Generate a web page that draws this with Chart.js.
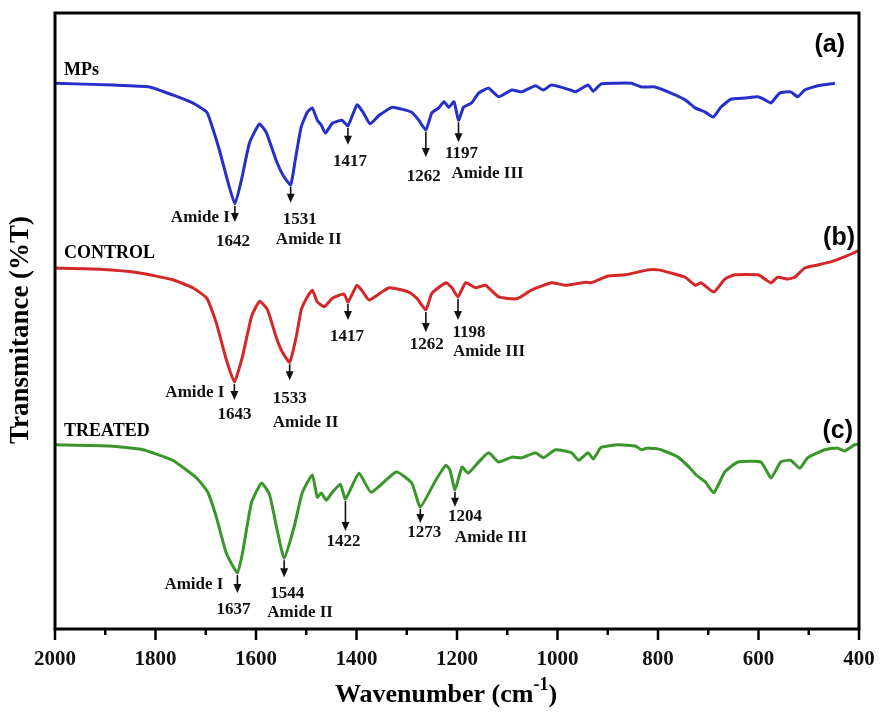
<!DOCTYPE html>
<html lang="en">
  <head>
    <meta charset="UTF-8" />
    <meta name="viewport" content="width=device-width, initial-scale=1.0" />
    <title>FTIR spectra</title>
    <style>
      html, body {
        margin: 0;
        padding: 0;
        background: #fff;
        overflow: hidden;
      }
      canvas {
        display: block;
      }
    </style>
  </head>
  <body>
    <canvas id="ftir" width="885" height="715"></canvas>
  </body>
  <script src="https://cdn.jsdelivr.net/npm/chart.js"></script>
  <script>
    // wavenumbers (cm-1) and offset transmittance for each sample
    const mpsWn = [2000,1885,1812,1766,1726,1698,1687,1673,1657,1642,1629,1613,1593,1579,1560,1545,1531,1522,1510,1498,1488,1478,1470,1462,1448,1429,1417,1399,1387,1373,1355,1329,1310,1290,1276,1262,1250,1236,1226,1216,1206,1197,1187,1171,1157,1137,1117,1091,1071,1044,1028,1012,974,964,939,929,913,885,853,833,806,774,746,726,706,690,675,655,627,601,587,575,558,536,522,508,482,448];
    const mpsT = [88.6,88.3,88.0,86.7,85.4,83.9,81.5,77.8,72.9,69.0,72.9,78.9,82.0,80.5,76.1,73.5,72.1,76.1,81.5,83.9,84.6,82.6,81.8,80.5,82.1,82.6,81.7,85.1,83.9,82.0,83.4,84.7,84.4,83.9,82.6,81.0,83.8,84.6,85.6,84.7,85.6,82.6,84.7,85.4,87.0,87.8,86.4,87.5,87.2,88.2,87.5,88.3,87.5,87.2,88.3,87.3,88.5,88.6,88.6,88.0,88.0,87.0,85.9,84.6,83.9,83.1,84.7,86.0,86.2,86.4,85.9,85.4,87.0,87.2,86.4,87.5,88.2,88.6];

    const controlWn = [2000,1911,1831,1766,1726,1698,1679,1659,1643,1627,1609,1593,1577,1560,1548,1533,1520,1510,1498,1488,1478,1464,1448,1425,1417,1399,1387,1375,1335,1296,1280,1262,1250,1222,1210,1198,1183,1163,1143,1117,1081,1052,1012,984,944,933,899,865,820,800,774,746,726,714,689,667,647,601,587,575,562,542,528,508,482,456,429,407,400];
    const controlT = [58.6,58.4,57.8,56.7,55.4,53.7,49.7,43.7,40.1,44.2,50.7,53.2,51.8,47.4,45.0,43.3,47.4,51.8,53.9,55.0,53.1,52.3,53.7,54.4,53.1,55.8,54.7,53.4,55.4,54.7,53.7,51.8,54.5,56.2,55.4,53.9,56.2,55.4,55.8,53.9,53.6,55.0,56.2,55.8,56.3,56.2,57.3,57.5,58.3,58.3,57.8,57.1,55.8,56.2,54.7,56.8,57.5,57.5,56.8,56.2,57.1,56.8,57.1,58.6,59.1,59.6,60.4,61.2,61.5];

    const treatedWn = [2000,1891,1825,1766,1718,1696,1679,1659,1637,1627,1609,1589,1573,1558,1544,1524,1508,1488,1478,1470,1460,1448,1432,1422,1395,1371,1321,1290,1273,1242,1222,1214,1204,1190,1178,1157,1137,1117,1091,1071,1044,1028,1004,972,958,939,929,913,879,845,833,820,794,760,736,724,706,689,667,641,595,575,556,536,518,502,468,443,429,409,400];
    const treatedT = [29.9,29.7,29.1,27.4,24.5,22.2,18.2,12.3,9.1,12.3,20.5,23.7,21.8,16.1,11.5,16.6,22.1,25.0,21.4,22.1,20.9,22.2,23.5,21.1,25.3,22.2,25.5,23.7,19.8,24.2,26.6,25.8,22.6,26.3,25.3,27.1,28.6,27.1,27.9,27.8,28.6,27.8,29.1,28.6,27.4,28.6,27.6,29.5,29.9,29.7,29.1,29.4,29.1,27.9,26.1,25.0,23.9,22.1,25.5,27.1,27.1,24.5,27.1,27.4,26.1,27.8,29.1,29.4,28.9,29.9,30.0];

    // assigned bands
    const mpsPeaks = [1642, 1531, 1417, 1262, 1197];
    const controlPeaks = [1643, 1533, 1417, 1262, 1198];
    const treatedPeaks = [1637, 1544, 1422, 1273, 1204];
    const peakNames = ['Amide I', 'Amide II', '', '', 'Amide III'];

    const sampleNames = ['MPs', 'CONTROL', 'TREATED'];
    const panelTags = ['(a)', '(b)', '(c)'];
    const xTicks = [2000, 1800, 1600, 1400, 1200, 1000, 800, 600, 400];

    const toPoints = (wn, t) => wn.map((x, i) => ({ x: x, y: t[i] }));

    // arrow length, number offset and name offset for each band (px)
    const markStyle = [
      [
        { len: 16, num: [-2, 38], name: [-5, 14, 'right'] },
        { len: 16, num: [9, 35], name: [18, 55, 'center'] },
        { len: 17, num: [2, 36] },
        { len: 25, num: [-2, 47] },
        { len: 20, num: [3, 33], name: [29, 53, 'center'] },
      ],
      [
        { len: 16, num: [0, 33], name: [-10, 11, 'right'] },
        { len: 16, num: [0, 36], name: [16, 60, 'center'] },
        { len: 16, num: [-1, 35] },
        { len: 20, num: [1, 35] },
        { len: 21, num: [11, 36], name: [31, 55, 'center'] },
      ],
      [
        { len: 18, num: [-4, 37], name: [-14, 12, 'right'] },
        { len: 17, num: [3, 35], name: [16, 54, 'center'] },
        { len: 30, num: [-2, 43] },
        { len: 14, num: [4, 26] },
        { len: 15, num: [10, 27], name: [36, 48, 'center'] },
      ],
    ];

    const series = [
      { wn: mpsWn, t: mpsT, peaks: mpsPeaks, color: 'rgb(38, 48, 200)' },
      { wn: controlWn, t: controlT, peaks: controlPeaks, color: 'rgb(212, 40, 40)' },
      { wn: treatedWn, t: treatedT, peaks: treatedPeaks, color: 'rgb(58, 150, 42)' },
    ];

    const serif = '"Liberation Serif", "Times New Roman", serif';

    const drawArrow = (ctx, x, y0, y1) => {
      ctx.beginPath();
      ctx.moveTo(x, y0);
      ctx.lineTo(x, y1 - 6);
      ctx.lineWidth = 1.6;
      ctx.strokeStyle = '#111';
      ctx.stroke();
      ctx.beginPath();
      ctx.moveTo(x - 4, y1 - 9);
      ctx.lineTo(x + 4, y1 - 9);
      ctx.lineTo(x, y1);
      ctx.closePath();
      ctx.fillStyle = '#111';
      ctx.fill();
    };

    const decor = {
      id: 'decor',
      afterDraw(chart) {
        const { ctx, chartArea: a, scales } = chart;
        const xs = scales.x;
        const ys = scales.y;
        ctx.save();

        // frame
        ctx.strokeStyle = '#000';
        ctx.lineWidth = 3;
        ctx.strokeRect(a.left, a.top, a.right - a.left, a.bottom - a.top);

        // major and minor ticks under the frame
        ctx.lineWidth = 2.5;
        for (let v = 2000; v >= 400; v -= 100) {
          const x = xs.getPixelForValue(v);
          ctx.beginPath();
          ctx.moveTo(x, a.bottom);
          ctx.lineTo(x, a.bottom + (v % 200 === 0 ? 11 : 6));
          ctx.stroke();
        }

        // band arrows and labels
        series.forEach((s, si) => {
          s.peaks.forEach((p, pi) => {
            const st = markStyle[si][pi];
            const idx = s.wn.indexOf(p);
            const x = xs.getPixelForValue(p);
            const y = ys.getPixelForValue(s.t[idx]);
            drawArrow(ctx, x, y + 2, y + 2 + st.len);
            ctx.fillStyle = '#111';
            ctx.font = 'bold 17px ' + serif;
            ctx.textBaseline = 'middle';
            ctx.textAlign = 'center';
            ctx.fillText(String(p), x + st.num[0], y + st.num[1]);
            if (st.name) {
              ctx.textAlign = st.name[2];
              ctx.fillText(peakNames[pi], x + st.name[0], y + st.name[1]);
            }
          });
        });

        // sample names and panel tags
        const nameY = [70, 253, 431];
        const tagY = [45, 238, 431];
        const tagRight = [14, 4, 6];
        ctx.fillStyle = '#000';
        ctx.textBaseline = 'middle';
        sampleNames.forEach((n, i) => {
          ctx.font = 'bold 18px ' + serif;
          ctx.textAlign = 'left';
          ctx.fillText(n, a.left + 9, nameY[i]);
          ctx.font = 'bold 25px "Liberation Sans", Arial, sans-serif';
          ctx.textAlign = 'right';
          ctx.fillText(panelTags[i], a.right - tagRight[i], tagY[i]);
        });

        // axis titles
        ctx.font = 'bold 27px ' + serif;
        ctx.textAlign = 'center';
        ctx.textBaseline = 'middle';
        ctx.save();
        ctx.translate(21, 330);
        ctx.rotate(-Math.PI / 2);
        ctx.fillText('Transmitance (%T)', 0, 0);
        ctx.restore();

        const main = 'Wavenumber (cm';
        const sup = '-1';
        const tail = ')';
        const big = 'bold 26px ' + serif;
        const small = 'bold 18px ' + serif;
        ctx.font = big;
        const w1 = ctx.measureText(main).width;
        const w3 = ctx.measureText(tail).width;
        ctx.font = small;
        const w2 = ctx.measureText(sup).width;
        let tx = 446 - (w1 + w2 + w3) / 2;
        const base = 702;
        ctx.textAlign = 'left';
        ctx.textBaseline = 'alphabetic';
        ctx.font = big;
        ctx.fillText(main, tx, base);
        tx += w1;
        ctx.font = small;
        ctx.fillText(sup, tx, base - 12);
        tx += w2;
        ctx.font = big;
        ctx.fillText(tail, tx, base);

        ctx.restore();
      },
    };

    new Chart(document.getElementById('ftir'), {
      type: 'line',
      data: {
        datasets: series.map((s, i) => ({
          label: sampleNames[i],
          data: toPoints(s.wn, s.t),
          borderColor: s.color,
          backgroundColor: s.color,
          borderWidth: 3,
          pointRadius: 0,
          tension: 0.15,
          fill: false,
        })),
      },
      options: {
        responsive: false,
        animation: false,
        layout: { padding: { left: 55, right: 26, top: 13, bottom: 0 } },
        plugins: {
          legend: { display: false },
          tooltip: { enabled: false },
        },
        scales: {
          x: {
            type: 'linear',
            reverse: true,
            min: 400,
            max: 2000,
            afterBuildTicks: (scale) => {
              scale.ticks = xTicks.map((v) => ({ value: v }));
            },
            afterFit: (scale) => {
              scale.height = 86;
              scale.paddingLeft = 0;
              scale.paddingRight = 0;
            },
            grid: { display: false, drawTicks: false },
            border: { display: false },
            ticks: {
              padding: 18,
              color: '#111',
              maxRotation: 0,
              callback: (v) => String(v),
              font: { family: serif, size: 21, weight: 'bold' },
            },
          },
          y: {
            display: false,
            min: 0,
            max: 100,
          },
        },
      },
      plugins: [decor],
    });
  </script>
</html>
